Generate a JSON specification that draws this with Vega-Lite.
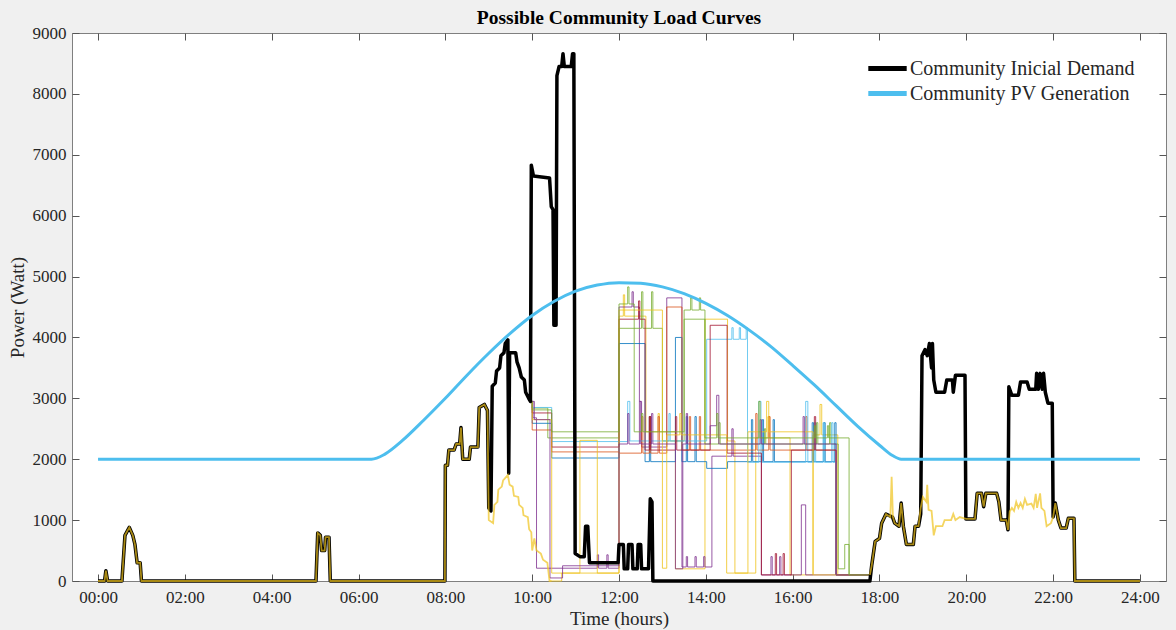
{
"$schema": "https://vega.github.io/schema/vega-lite/v6.json",
"width": 1094, "height": 548,
"autosize": {"type": "none"},
"padding": {"left": 72, "top": 33, "right": 10, "bottom": 49},
"background": "#f0f0f0",
"config": {"font": "Liberation Serif", "view": {"fill": "white", "stroke": "#7f7f7f", "strokeWidth": 1}},
"title": {"text": "Possible Community Load Curves", "font": "Liberation Serif", "fontSize": 19.5, "fontWeight": "bold", "color": "#000000", "anchor": "middle", "offset": -4},
"datasets": {
"B": [{"t":0,"v":0},{"t":0.15,"v":0},{"t":0.18,"v":170},{"t":0.22,"v":0},{"t":0.55,"v":0},{"t":0.62,"v":750},{"t":0.72,"v":880},{"t":0.8,"v":750},{"t":0.85,"v":600},{"t":0.9,"v":300},{"t":0.97,"v":300},{"t":1.0,"v":0},{"t":5.02,"v":0},{"t":5.06,"v":790},{"t":5.12,"v":750},{"t":5.15,"v":500},{"t":5.22,"v":500},{"t":5.24,"v":720},{"t":5.32,"v":720},{"t":5.35,"v":0},{"t":7.99,"v":0},{"t":8.0,"v":1900},{"t":8.05,"v":1900},{"t":8.08,"v":2150},{"t":8.2,"v":2150},{"t":8.25,"v":2250},{"t":8.33,"v":2250},{"t":8.36,"v":2520},{"t":8.4,"v":2000},{"t":8.55,"v":2000},{"t":8.58,"v":2200},{"t":8.75,"v":2200},{"t":8.78,"v":2850},{"t":8.9,"v":2900},{"t":8.97,"v":2800},{"t":9.0,"v":1200},{"t":9.05,"v":1150},{"t":9.08,"v":3200},{"t":9.15,"v":3250},{"t":9.18,"v":3450},{"t":9.25,"v":3500},{"t":9.28,"v":3700},{"t":9.35,"v":3750},{"t":9.38,"v":3900},{"t":9.44,"v":3960},{"t":9.46,"v":1770},{"t":9.48,"v":3750},{"t":9.62,"v":3750},{"t":9.65,"v":3600},{"t":9.7,"v":3500},{"t":9.75,"v":3350},{"t":9.82,"v":3300},{"t":9.85,"v":3100},{"t":9.92,"v":3000},{"t":9.96,"v":2950},{"t":9.98,"v":6830},{"t":10.03,"v":6650},{"t":10.4,"v":6620},{"t":10.44,"v":6150},{"t":10.48,"v":6100},{"t":10.5,"v":4200},{"t":10.55,"v":4200},{"t":10.57,"v":8300},{"t":10.62,"v":8450},{"t":10.68,"v":8450},{"t":10.71,"v":8660},{"t":10.74,"v":8450},{"t":10.9,"v":8450},{"t":10.93,"v":8660},{"t":10.96,"v":8660},{"t":10.99,"v":450},{"t":11.1,"v":400},{"t":11.2,"v":400},{"t":11.23,"v":900},{"t":11.28,"v":900},{"t":11.32,"v":300},{"t":11.98,"v":300},{"t":12.0,"v":600},{"t":12.1,"v":600},{"t":12.12,"v":200},{"t":12.2,"v":200},{"t":12.22,"v":600},{"t":12.3,"v":600},{"t":12.32,"v":200},{"t":12.42,"v":200},{"t":12.44,"v":600},{"t":12.5,"v":600},{"t":12.52,"v":200},{"t":12.68,"v":200},{"t":12.72,"v":1350},{"t":12.76,"v":1300},{"t":12.78,"v":0},{"t":17.78,"v":0},{"t":17.82,"v":250},{"t":17.9,"v":650},{"t":18.0,"v":700},{"t":18.05,"v":950},{"t":18.15,"v":1100},{"t":18.3,"v":1050},{"t":18.35,"v":950},{"t":18.45,"v":900},{"t":18.5,"v":1280},{"t":18.55,"v":900},{"t":18.62,"v":600},{"t":18.78,"v":600},{"t":18.82,"v":900},{"t":18.9,"v":900},{"t":18.95,"v":1100},{"t":18.98,"v":3700},{"t":19.05,"v":3800},{"t":19.1,"v":3700},{"t":19.15,"v":3900},{"t":19.2,"v":3500},{"t":19.22,"v":3900},{"t":19.25,"v":3300},{"t":19.3,"v":3100},{"t":19.5,"v":3100},{"t":19.55,"v":3300},{"t":19.68,"v":3300},{"t":19.7,"v":3100},{"t":19.75,"v":3380},{"t":19.97,"v":3380},{"t":19.99,"v":1020},{"t":20.2,"v":1020},{"t":20.25,"v":1440},{"t":20.35,"v":1440},{"t":20.4,"v":1220},{"t":20.45,"v":1440},{"t":20.7,"v":1440},{"t":20.75,"v":1300},{"t":20.8,"v":1000},{"t":20.92,"v":1000},{"t":20.96,"v":840},{"t":20.98,"v":3190},{"t":21.05,"v":3050},{"t":21.2,"v":3050},{"t":21.25,"v":3270},{"t":21.4,"v":3270},{"t":21.45,"v":3150},{"t":21.6,"v":3150},{"t":21.62,"v":3410},{"t":21.66,"v":3150},{"t":21.7,"v":3410},{"t":21.75,"v":3150},{"t":21.78,"v":3410},{"t":21.82,"v":3100},{"t":21.88,"v":2920},{"t":21.98,"v":2920},{"t":22.0,"v":1050},{"t":22.05,"v":1280},{"t":22.12,"v":1000},{"t":22.18,"v":870},{"t":22.3,"v":870},{"t":22.35,"v":1030},{"t":22.48,"v":1030},{"t":22.5,"v":0},{"t":24,"v":0}],
"P": [{"t":0,"v":2000},{"t":6.3,"v":2000},{"t":6.6,"v":2080},{"t":7.0,"v":2300},{"t":7.5,"v":2640},{"t":8.0,"v":3000},{"t":8.5,"v":3380},{"t":9.0,"v":3740},{"t":9.5,"v":4070},{"t":10.0,"v":4360},{"t":10.5,"v":4590},{"t":11.0,"v":4760},{"t":11.5,"v":4860},{"t":12.0,"v":4900},{"t":12.5,"v":4890},{"t":13.0,"v":4830},{"t":13.5,"v":4720},{"t":14.0,"v":4560},{"t":14.5,"v":4360},{"t":15.0,"v":4120},{"t":15.5,"v":3850},{"t":16.0,"v":3540},{"t":16.5,"v":3220},{"t":17.0,"v":2880},{"t":17.5,"v":2540},{"t":18.0,"v":2230},{"t":18.3,"v":2060},{"t":18.5,"v":2000},{"t":24,"v":2000}],
"F": [{"g":"a","t":0,"v":0},{"g":"a","t":0.15,"v":0},{"g":"a","t":0.18,"v":170},{"g":"a","t":0.22,"v":0},{"g":"a","t":0.55,"v":0},{"g":"a","t":0.62,"v":750},{"g":"a","t":0.72,"v":880},{"g":"a","t":0.8,"v":750},{"g":"a","t":0.85,"v":600},{"g":"a","t":0.9,"v":300},{"g":"a","t":0.97,"v":300},{"g":"a","t":1.0,"v":0},{"g":"a","t":5.02,"v":0},{"g":"a","t":5.06,"v":790},{"g":"a","t":5.12,"v":750},{"g":"a","t":5.15,"v":500},{"g":"a","t":5.22,"v":500},{"g":"a","t":5.24,"v":720},{"g":"a","t":5.32,"v":720},{"g":"a","t":5.35,"v":0},{"g":"a","t":7.99,"v":0},{"g":"a","t":8.0,"v":1900},{"g":"a","t":8.05,"v":1900},{"g":"a","t":8.08,"v":2150},{"g":"a","t":8.2,"v":2150},{"g":"a","t":8.25,"v":2250},{"g":"a","t":8.33,"v":2250},{"g":"a","t":8.36,"v":2520},{"g":"a","t":8.4,"v":2000},{"g":"a","t":8.55,"v":2000},{"g":"a","t":8.58,"v":2200},{"g":"a","t":8.75,"v":2200},{"g":"a","t":8.78,"v":2850},{"g":"a","t":8.9,"v":2900},{"g":"a","t":8.97,"v":2800},{"g":"a","t":9.0,"v":1000},{"g":"a","t":9.1,"v":950},{"g":"a","t":9.13,"v":1250},{"g":"a","t":9.2,"v":1300},{"g":"a","t":9.22,"v":1500},{"g":"a","t":9.3,"v":1550},{"g":"a","t":9.33,"v":1650},{"g":"a","t":9.44,"v":1740},{"g":"a","t":9.48,"v":1580},{"g":"a","t":9.55,"v":1550},{"g":"a","t":9.58,"v":1400},{"g":"a","t":9.68,"v":1380},{"g":"a","t":9.7,"v":1250},{"g":"a","t":9.78,"v":1200},{"g":"a","t":9.8,"v":1080},{"g":"a","t":9.9,"v":1050},{"g":"a","t":9.93,"v":850},{"g":"a","t":9.98,"v":800},{"g":"a","t":10.0,"v":500},{"g":"a","t":10.05,"v":700},{"g":"a","t":10.1,"v":500},{"g":"a","t":10.2,"v":450},{"g":"a","t":10.25,"v":350},{"g":"a","t":10.35,"v":300},{"g":"a","t":10.4,"v":0},{"g":"a","t":10.45,"v":0},
{"g":"b","t":17.78,"v":100},{"g":"b","t":17.82,"v":250},{"g":"b","t":17.9,"v":650},{"g":"b","t":18.0,"v":700},{"g":"b","t":18.05,"v":950},{"g":"b","t":18.15,"v":1100},{"g":"b","t":18.25,"v":1050},{"g":"b","t":18.28,"v":1710},{"g":"b","t":18.31,"v":1050},{"g":"b","t":18.35,"v":950},{"g":"b","t":18.45,"v":900},{"g":"b","t":18.5,"v":1280},{"g":"b","t":18.55,"v":900},{"g":"b","t":18.62,"v":600},{"g":"b","t":18.78,"v":600},{"g":"b","t":18.82,"v":900},{"g":"b","t":18.9,"v":900},{"g":"b","t":18.95,"v":1200},{"g":"b","t":19.0,"v":1380},{"g":"b","t":19.08,"v":1300},{"g":"b","t":19.1,"v":1580},{"g":"b","t":19.13,"v":1170},{"g":"b","t":19.2,"v":1150},{"g":"b","t":19.25,"v":750},{"g":"b","t":19.3,"v":900},{"g":"b","t":19.45,"v":900},{"g":"b","t":19.5,"v":1000},{"g":"b","t":19.65,"v":1000},{"g":"b","t":19.7,"v":1100},{"g":"b","t":19.75,"v":1000},{"g":"b","t":19.85,"v":1050},{"g":"b","t":19.95,"v":1030},{"g":"b","t":20.0,"v":1020},{"g":"b","t":20.2,"v":1020},{"g":"b","t":20.25,"v":1440},{"g":"b","t":20.35,"v":1440},{"g":"b","t":20.4,"v":1220},{"g":"b","t":20.45,"v":1440},{"g":"b","t":20.7,"v":1440},{"g":"b","t":20.75,"v":1300},{"g":"b","t":20.8,"v":1000},{"g":"b","t":20.92,"v":1000},{"g":"b","t":20.96,"v":840},{"g":"b","t":21.0,"v":1140},{"g":"b","t":21.05,"v":1200},{"g":"b","t":21.1,"v":1150},{"g":"b","t":21.15,"v":1300},{"g":"b","t":21.2,"v":1200},{"g":"b","t":21.25,"v":1280},{"g":"b","t":21.3,"v":1200},{"g":"b","t":21.35,"v":1350},{"g":"b","t":21.4,"v":1250},{"g":"b","t":21.5,"v":1270},{"g":"b","t":21.55,"v":1200},{"g":"b","t":21.6,"v":1430},{"g":"b","t":21.63,"v":1200},{"g":"b","t":21.7,"v":1440},{"g":"b","t":21.73,"v":1200},{"g":"b","t":21.8,"v":1150},{"g":"b","t":21.85,"v":900},{"g":"b","t":21.95,"v":950},{"g":"b","t":22.0,"v":1050},{"g":"b","t":22.05,"v":1280},{"g":"b","t":22.12,"v":1000},{"g":"b","t":22.18,"v":870},{"g":"b","t":22.3,"v":870},{"g":"b","t":22.35,"v":1030},{"g":"b","t":22.48,"v":1030},{"g":"b","t":22.5,"v":0},{"g":"b","t":24,"v":0}],
"S": [
{"s":"F","t":10.45,"v":0},{"s":"F","t":10.68,"v":130},{"s":"F","t":12.0,"v":4350},{"s":"F","t":12.1,"v":4700},{"s":"F","t":12.13,"v":4350},{"s":"F","t":12.62,"v":2450},{"s":"F","t":12.9,"v":2750},{"s":"F","t":12.93,"v":2450},{"s":"F","t":13.3,"v":200},{"s":"F","t":13.98,"v":4300},{"s":"F","t":14.5,"v":2300},{"s":"F","t":14.67,"v":130},{"s":"F","t":15.15,"v":2350},{"s":"F","t":15.43,"v":2700},{"s":"F","t":15.47,"v":2350},{"s":"F","t":15.94,"v":100},{"s":"F","t":16.47,"v":2400},{"s":"F","t":16.63,"v":2900},{"s":"F","t":16.67,"v":2400},{"s":"F","t":17.04,"v":100},{"s":"F","t":17.78,"v":100},
{"s":"S1","t":9.97,"v":2950},{"s":"S1","t":10.02,"v":2680},{"s":"S1","t":10.1,"v":210},{"s":"S1","t":11.5,"v":430},{"s":"S1","t":11.53,"v":210},{"s":"S1","t":11.72,"v":430},{"s":"S1","t":11.75,"v":210},{"s":"S1","t":12.0,"v":4500},{"s":"S1","t":12.3,"v":4750},{"s":"S1","t":12.33,"v":4500},{"s":"S1","t":12.47,"v":2950},{"s":"S1","t":12.52,"v":2200},{"s":"S1","t":12.7,"v":2700},{"s":"S1","t":12.73,"v":2200},{"s":"S1","t":13.1,"v":4650},{"s":"S1","t":13.45,"v":230},{"s":"S1","t":13.55,"v":400},{"s":"S1","t":13.58,"v":230},{"s":"S1","t":13.75,"v":400},{"s":"S1","t":13.78,"v":230},{"s":"S1","t":13.95,"v":400},{"s":"S1","t":13.98,"v":230},{"s":"S1","t":14.14,"v":2050},{"s":"S1","t":14.6,"v":2500},{"s":"S1","t":14.63,"v":2050},{"s":"S1","t":15.28,"v":100},{"s":"S1","t":15.5,"v":400},{"s":"S1","t":15.53,"v":100},{"s":"S1","t":15.7,"v":400},{"s":"S1","t":15.73,"v":100},{"s":"S1","t":16.2,"v":1250},{"s":"S1","t":16.3,"v":100},{"s":"S1","t":17.78,"v":100},
{"s":"S2","t":9.97,"v":2950},{"s":"S2","t":10.0,"v":2840},{"s":"S2","t":10.36,"v":2350},{"s":"S2","t":12.0,"v":4150},{"s":"S2","t":12.52,"v":4750},{"s":"S2","t":12.55,"v":4150},{"s":"S2","t":12.75,"v":4750},{"s":"S2","t":12.78,"v":4150},{"s":"S2","t":13.0,"v":2300},{"s":"S2","t":13.5,"v":4450},{"s":"S2","t":13.65,"v":4650},{"s":"S2","t":13.68,"v":4450},{"s":"S2","t":13.85,"v":4650},{"s":"S2","t":13.88,"v":4450},{"s":"S2","t":13.98,"v":2250},{"s":"S2","t":14.3,"v":2600},{"s":"S2","t":14.33,"v":2250},{"s":"S2","t":15.35,"v":2500},{"s":"S2","t":15.38,"v":2250},{"s":"S2","t":16.55,"v":2600},{"s":"S2","t":16.58,"v":2250},{"s":"S2","t":16.85,"v":2600},{"s":"S2","t":16.88,"v":2250},{"s":"S2","t":17.05,"v":200},{"s":"S2","t":17.2,"v":600},{"s":"S2","t":17.3,"v":100},{"s":"S2","t":17.78,"v":100},
{"s":"S3","t":9.97,"v":2950},{"s":"S3","t":10.0,"v":2590},{"s":"S3","t":10.45,"v":2020},{"s":"S3","t":12.0,"v":3900},{"s":"S3","t":12.6,"v":1960},{"s":"S3","t":12.7,"v":2700},{"s":"S3","t":12.73,"v":1960},{"s":"S3","t":13.3,"v":4000},{"s":"S3","t":13.45,"v":1960},{"s":"S3","t":13.55,"v":2700},{"s":"S3","t":13.58,"v":1960},{"s":"S3","t":13.75,"v":2700},{"s":"S3","t":13.78,"v":1960},{"s":"S3","t":14.02,"v":1850},{"s":"S3","t":14.5,"v":1960},{"s":"S3","t":15.05,"v":2650},{"s":"S3","t":15.08,"v":1960},{"s":"S3","t":15.3,"v":2650},{"s":"S3","t":15.33,"v":1960},{"s":"S3","t":15.55,"v":2650},{"s":"S3","t":15.58,"v":1960},{"s":"S3","t":16.45,"v":2600},{"s":"S3","t":16.48,"v":1960},{"s":"S3","t":16.72,"v":2600},{"s":"S3","t":16.75,"v":1960},{"s":"S3","t":16.97,"v":2600},{"s":"S3","t":17.0,"v":100},{"s":"S3","t":17.78,"v":100},
{"s":"S4","t":9.97,"v":2950},{"s":"S4","t":10.0,"v":2480},{"s":"S4","t":10.45,"v":2120},{"s":"S4","t":12.0,"v":2100},{"s":"S4","t":12.52,"v":2700},{"s":"S4","t":12.55,"v":2100},{"s":"S4","t":12.7,"v":2700},{"s":"S4","t":12.73,"v":2100},{"s":"S4","t":12.9,"v":2700},{"s":"S4","t":12.93,"v":2100},{"s":"S4","t":13.1,"v":4500},{"s":"S4","t":13.45,"v":2150},{"s":"S4","t":13.62,"v":2700},{"s":"S4","t":13.65,"v":2150},{"s":"S4","t":13.85,"v":2700},{"s":"S4","t":13.88,"v":2150},{"s":"S4","t":15.15,"v":2750},{"s":"S4","t":15.18,"v":2150},{"s":"S4","t":15.45,"v":2700},{"s":"S4","t":15.48,"v":2150},{"s":"S4","t":16.3,"v":2700},{"s":"S4","t":16.33,"v":2150},{"s":"S4","t":17.0,"v":100},{"s":"S4","t":17.78,"v":100},
{"s":"S5","t":9.97,"v":2950},{"s":"S5","t":10.0,"v":2850},{"s":"S5","t":10.45,"v":2290},{"s":"S5","t":12.2,"v":2950},{"s":"S5","t":12.25,"v":2300},{"s":"S5","t":13.15,"v":2750},{"s":"S5","t":13.18,"v":2300},{"s":"S5","t":14.02,"v":3970},{"s":"S5","t":14.6,"v":4160},{"s":"S5","t":14.63,"v":3970},{"s":"S5","t":14.77,"v":4160},{"s":"S5","t":14.8,"v":3970},{"s":"S5","t":14.93,"v":4160},{"s":"S5","t":14.96,"v":1950},{"s":"S5","t":15.22,"v":2950},{"s":"S5","t":15.27,"v":1950},{"s":"S5","t":16.3,"v":2950},{"s":"S5","t":16.35,"v":1950},{"s":"S5","t":16.5,"v":2600},{"s":"S5","t":16.53,"v":1950},{"s":"S5","t":16.7,"v":2600},{"s":"S5","t":16.73,"v":1950},{"s":"S5","t":16.9,"v":2600},{"s":"S5","t":16.93,"v":1950},{"s":"S5","t":17.0,"v":100},{"s":"S5","t":17.78,"v":100},
{"s":"S6","t":9.97,"v":2950},{"s":"S6","t":10.0,"v":2760},{"s":"S6","t":10.45,"v":2200},{"s":"S6","t":12.0,"v":4300},{"s":"S6","t":12.45,"v":4600},{"s":"S6","t":12.48,"v":4300},{"s":"S6","t":12.6,"v":2150},{"s":"S6","t":12.7,"v":2700},{"s":"S6","t":12.73,"v":2150},{"s":"S6","t":13.3,"v":2700},{"s":"S6","t":13.33,"v":2150},{"s":"S6","t":14.1,"v":4200},{"s":"S6","t":14.49,"v":2100},{"s":"S6","t":15.28,"v":100},{"s":"S6","t":15.6,"v":450},{"s":"S6","t":15.63,"v":100},{"s":"S6","t":15.78,"v":450},{"s":"S6","t":15.81,"v":100},{"s":"S6","t":15.97,"v":2150},{"s":"S6","t":16.5,"v":2700},{"s":"S6","t":16.53,"v":2150},{"s":"S6","t":17.0,"v":100},{"s":"S6","t":17.78,"v":100},
{"s":"S7","t":9.97,"v":2950},{"s":"S7","t":10.0,"v":2650},{"s":"S7","t":10.45,"v":130},{"s":"S7","t":11.1,"v":2310},{"s":"S7","t":11.5,"v":130},{"s":"S7","t":12.0,"v":4450},{"s":"S7","t":13.0,"v":210},{"s":"S7","t":13.1,"v":2400},{"s":"S7","t":13.4,"v":2750},{"s":"S7","t":13.43,"v":2400},{"s":"S7","t":14.48,"v":130},{"s":"S7","t":14.97,"v":2450},{"s":"S7","t":15.4,"v":2950},{"s":"S7","t":15.45,"v":2450},{"s":"S7","t":16.47,"v":100},{"s":"S7","t":17.78,"v":100},
{"s":"S8","t":9.97,"v":2950},{"s":"S8","t":10.05,"v":2650},{"s":"S8","t":10.41,"v":50},{"s":"S8","t":10.7,"v":250},{"s":"S8","t":12.0,"v":2250},{"s":"S8","t":12.2,"v":2750},{"s":"S8","t":12.23,"v":2250},{"s":"S8","t":12.47,"v":2950},{"s":"S8","t":12.5,"v":2250},{"s":"S8","t":12.75,"v":2750},{"s":"S8","t":12.78,"v":2250},{"s":"S8","t":13.3,"v":200},{"s":"S8","t":13.47,"v":2250},{"s":"S8","t":13.55,"v":2750},{"s":"S8","t":13.58,"v":2250},{"s":"S8","t":14.1,"v":2550},{"s":"S8","t":14.25,"v":3050},{"s":"S8","t":14.3,"v":2250},{"s":"S8","t":15.25,"v":2650},{"s":"S8","t":15.28,"v":2250},{"s":"S8","t":16.24,"v":2700},{"s":"S8","t":16.27,"v":2250},{"s":"S8","t":17.0,"v":100},{"s":"S8","t":17.78,"v":100},
{"s":"S9","t":9.97,"v":2950},{"s":"S9","t":10.0,"v":2810},{"s":"S9","t":10.45,"v":2450},{"s":"S9","t":12.0,"v":4550},{"s":"S9","t":12.2,"v":4830},{"s":"S9","t":12.23,"v":4550},{"s":"S9","t":12.35,"v":2450},{"s":"S9","t":12.52,"v":2750},{"s":"S9","t":12.55,"v":2450},{"s":"S9","t":13.5,"v":4300},{"s":"S9","t":13.98,"v":2350},{"s":"S9","t":14.25,"v":2750},{"s":"S9","t":14.28,"v":2350},{"s":"S9","t":15.22,"v":2950},{"s":"S9","t":15.25,"v":2350},{"s":"S9","t":16.5,"v":2550},{"s":"S9","t":16.53,"v":2350},{"s":"S9","t":16.8,"v":2550},{"s":"S9","t":16.83,"v":2350},{"s":"S9","t":17.3,"v":100},{"s":"S9","t":17.78,"v":100}
]
},
"resolve": {"axis": {"x": "independent", "y": "independent"}},
"layer": [
{
"data": {"name": "S"},
"mark": {"type": "line", "interpolate": "step-after", "strokeWidth": 1, "opacity": 0.8},
"encoding": {
"x": {"field": "t", "type": "quantitative", "scale": {"domain": [-0.6, 24.6], "nice": false, "zero": false}, "axis": null},
"y": {"field": "v", "type": "quantitative", "scale": {"domain": [0, 9000], "nice": false}, "axis": null},
"stroke": {"field": "s", "type": "nominal", "scale": {"domain": ["F","S1","S2","S3","S4","S5","S6","S7","S8","S9"], "range": ["#EFC31C","#7E2F8E","#77AC30","#0072BD","#D95319","#4DBEEE","#A2142F","#EFC31C","#7E2F8E","#77AC30"]}, "legend": null}
}
},
{
"data": {"name": "B"},
"mark": {"type": "line", "strokeWidth": 3.5, "strokeJoin": "round"},
"encoding": {
"x": {"field": "t", "type": "quantitative", "axis": {"orient": "bottom", "offset": -7, "values": [0,2,4,6,8,10,12,14,16,18,20,22,24], "labelExpr": "(datum.value < 10 ? '0' : '') + datum.value + ':00'", "labelFlush": false, "ticks": true, "tickSize": 7, "tickColor": "#555555", "tickWidth": 1, "domain": false, "grid": false, "labelPadding": 8, "labelFontSize": 17, "labelFont": "Liberation Serif", "labelColor": "#262626", "title": "Time (hours)", "titleFont": "Liberation Serif", "titleFontSize": 19, "titleFontWeight": "normal", "titleColor": "#262626", "titlePadding": 4}},
"y": {"field": "v", "type": "quantitative", "axis": {"orient": "left", "offset": -7, "values": [0,1000,2000,3000,4000,5000,6000,7000,8000,9000], "format": "d", "labelFlush": false, "ticks": true, "tickSize": 7, "tickColor": "#555555", "tickWidth": 1, "domain": false, "grid": false, "labelPadding": 6, "labelFontSize": 17, "labelFont": "Liberation Serif", "labelColor": "#262626", "title": "Power (Watt)", "titleFont": "Liberation Serif", "titleFontSize": 19, "titleFontWeight": "normal", "titleColor": "#262626", "titlePadding": 5}},
"color": {"datum": "Community Inicial Demand", "type": "nominal", "scale": {"domain": ["Community Inicial Demand", "Community PV Generation"], "range": ["#000000", "#4DBEEE"]}, "legend": {"orient": "none", "legendX": 801, "legendY": 21, "title": null, "symbolType": "M-1.6,0H1.6", "symbolSize": 576, "symbolStrokeWidth": 5, "labelFontSize": 20, "labelFont": "Liberation Serif", "labelColor": "#262626", "labelOffset": 8, "rowPadding": -1, "padding": 0, "labelLimit": 400}}
}
},
{
"data": {"name": "F"},
"mark": {"type": "line", "strokeWidth": 1.8, "color": "#EFC31C", "opacity": 0.7},
"encoding": {
"x": {"field": "t", "type": "quantitative", "axis": null},
"y": {"field": "v", "type": "quantitative", "axis": null},
"detail": {"field": "g", "type": "nominal"}
}
},
{
"data": {"name": "P"},
"mark": {"type": "line", "strokeWidth": 3, "interpolate": "monotone"},
"encoding": {
"x": {"field": "t", "type": "quantitative", "axis": {"orient": "top", "offset": -7, "values": [0,2,4,6,8,10,12,14,16,18,20,22,24], "labels": false, "ticks": true, "tickSize": 7, "tickColor": "#555555", "tickWidth": 1, "domain": false, "grid": false, "title": null}},
"y": {"field": "v", "type": "quantitative", "axis": {"orient": "right", "offset": -7, "values": [0,1000,2000,3000,4000,5000,6000,7000,8000,9000], "labels": false, "ticks": true, "tickSize": 7, "tickColor": "#555555", "tickWidth": 1, "domain": false, "grid": false, "title": null}},
"color": {"datum": "Community PV Generation", "type": "nominal"}
}
}
]
}
